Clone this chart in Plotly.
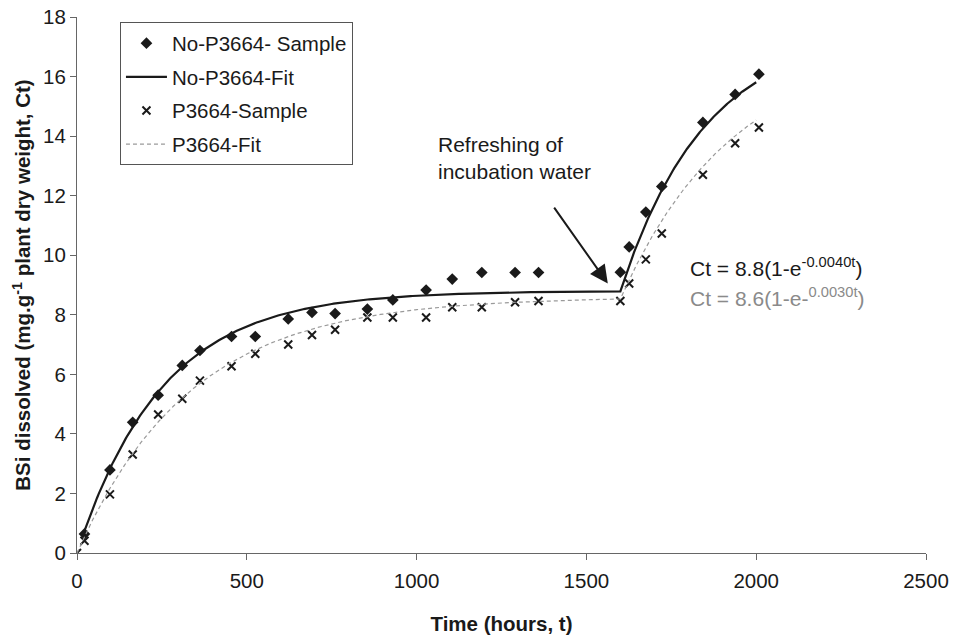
import numpy as np
import plotly.graph_objects as go

# Sampling times (hours) and dissolved BSi (mg/g plant dry weight)
t_no = [22, 97, 164, 239, 310, 362, 455, 525, 622, 692, 760, 855, 930, 1028,
        1105, 1192, 1290, 1359, 1600, 1626, 1675, 1722, 1843, 1938, 2008]
c_no = [0.64, 2.79, 4.39, 5.30, 6.30, 6.80, 7.27, 7.27, 7.86, 8.08, 8.04, 8.19,
        8.50, 8.83, 9.20, 9.42, 9.42, 9.42, 9.43, 10.28, 11.45, 12.31, 14.46,
        15.40, 16.08]

t_p = [0, 22, 97, 164, 239, 310, 362, 455, 525, 622, 692, 760, 855, 930, 1028,
       1105, 1192, 1290, 1359, 1600, 1626, 1675, 1722, 1843, 1938, 2008]
c_p = [0, 0.41, 1.97, 3.31, 4.65, 5.18, 5.79, 6.27, 6.69, 7.00, 7.32, 7.50,
       7.91, 7.91, 7.91, 8.25, 8.25, 8.42, 8.46, 8.46, 9.05, 9.86, 10.73, 12.70,
       13.76, 14.29]

# First-order dissolution fits Ct = A(1 - e^(-k t)), restarted at water refresh
fit_no = {"A": 8.8, "k": 0.0040, "start": 22}
fit_p = {"A": 8.6, "k": 0.0030, "start": 0}
t_refresh = 1600
t_end = 2000

x_ticks = [0, 500, 1000, 1500, 2000, 2500]
y_ticks = list(range(0, 19, 2))

FONT = "Liberation Sans, Arial, sans-serif"
INK = "#1a1a1a"


def fit_curve(p):
    t1 = np.linspace(p["start"], t_refresh, 300)
    c1 = p["A"] * (1 - np.exp(-p["k"] * t1))
    base = c1[-1]
    t2 = np.linspace(t_refresh, t_end, 200)
    c2 = base + p["A"] * (1 - np.exp(-p["k"] * (t2 - t_refresh)))
    return np.concatenate([t1, t2[1:]]), np.concatenate([c1, c2[1:]])


tf_no, cf_no = fit_curve(fit_no)
tf_p, cf_p = fit_curve(fit_p)

fig = go.Figure()
fig.add_trace(go.Scatter(
    x=t_no, y=c_no, mode="markers", name="No-P3664- Sample",
    legendgroup="a",
    marker=dict(symbol="diamond", size=9, color=INK)))
fig.add_trace(go.Scatter(
    x=tf_no, y=cf_no, mode="lines", name="No-P3664-Fit",
    legendgroup="b",
    line=dict(color=INK, width=2.2)))
fig.add_trace(go.Scatter(
    x=t_p, y=c_p, mode="markers", name="P3664-Sample",
    legendgroup="c",
    marker=dict(symbol="x-thin", size=8, color=INK,
                line=dict(width=2, color=INK))))
fig.add_trace(go.Scatter(
    x=tf_p, y=cf_p, mode="lines", name="P3664-Fit",
    legendgroup="d",
    line=dict(color="#9a9a9a", width=1.2, dash="4px,3px")))

# Arrow marking the refresh of incubation water
fig.add_annotation(
    x=1563, y=9.05, ax=1402, ay=11.65, xref="x", yref="y",
    axref="x", ayref="y", text="", showarrow=True,
    arrowhead=2, arrowsize=1.8, arrowwidth=2, arrowcolor=INK)
fig.add_annotation(
    x=1057, y=13.25, xref="x", yref="y", xanchor="left", yanchor="middle",
    text="Refreshing of<br>incubation water", showarrow=False, align="left",
    font=dict(family=FONT, size=21, color=INK))

# Fitted equations
fig.add_annotation(
    x=1800, y=9.62, xref="x", yref="y", xanchor="left", yanchor="middle",
    text="Ct = 8.8(1-e<sup>-0.0040t</sup>)", showarrow=False,
    font=dict(family=FONT, size=21, color=INK))
fig.add_annotation(
    x=1800, y=8.6, xref="x", yref="y", xanchor="left", yanchor="middle",
    text="Ct = 8.6(1-e-<sup>0.0030t</sup>)", showarrow=False,
    font=dict(family=FONT, size=21, color="#8a8a8a"))

axis_common = dict(
    showgrid=False, zeroline=False, showline=True, linecolor="#666",
    linewidth=1, ticks="outside", ticklen=6, tickcolor="#666",
    tickfont=dict(family=FONT, size=20.5, color=INK))

fig.update_xaxes(
    range=[0, 2500], tickvals=x_ticks, ticktext=[str(v) for v in x_ticks],
    ticklabelstandoff=3,
    title=dict(text="<b>Time (hours, t)</b>", standoff=26,
               font=dict(family=FONT, size=20.5, color=INK)),
    **axis_common)
fig.update_yaxes(
    range=[0, 18], tickvals=y_ticks, ticktext=[str(v) for v in y_ticks],
    title=dict(text="<b>BSi dissolved (mg.g<sup>-1</sup> plant dry weight, Ct)</b>",
               standoff=6,
               font=dict(family=FONT, size=20.5, color=INK)),
    **axis_common)

fig.update_layout(
    width=954, height=639,
    margin=dict(l=77, r=28, t=17, b=86, autoexpand=False),
    paper_bgcolor="white", plot_bgcolor="white",
    font=dict(family=FONT, size=20.5, color=INK),
    showlegend=True,
    legend=dict(
        x=0.0506, y=0.99, xanchor="left", yanchor="top",
        bgcolor="white", bordercolor="#555", borderwidth=1,
        font=dict(family=FONT, size=20.5, color=INK),
        traceorder="grouped", tracegroupgap=4, itemwidth=41),
)

fig.write_html("out.html")
